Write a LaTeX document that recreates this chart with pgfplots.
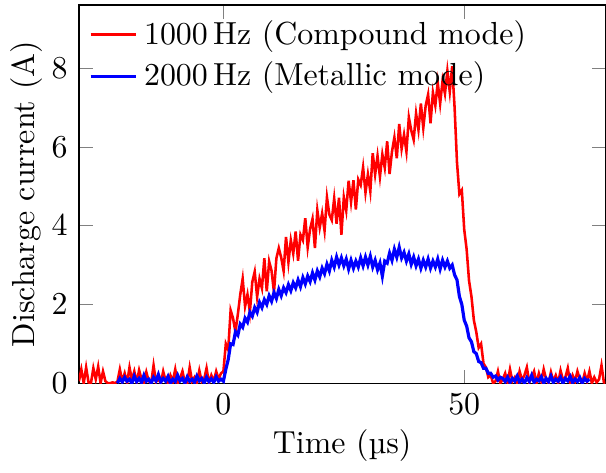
\documentclass[border=0pt]{standalone}
\usepackage{pgfplots}
\pgfplotsset{compat=1.18}
\begin{document}
\begin{tikzpicture}
\begin{axis}[
  scale only axis,
  width=165pt, height=118.5pt,
  xmin=-30, xmax=79.3,
  ymin=0, ymax=9.6,
  xtick={0,50}, ytick={0,2,4,6,8},
  xlabel={Time (\textmu s)},
  ylabel={Discharge current (A)},
  ylabel shift=-4pt,
  xlabel shift=-2.2pt,
  legend style={at={(0,0.995)}, anchor=north west, draw=none, fill=none},
  legend image code/.code={\draw[#1] (0cm,0cm) -- (0.5cm,0cm);},
  legend cell align=left,
]
\addplot[red, line width=0.8pt] coordinates {
(-30,0.05)(-29.5,0.35)(-29,0.0)(-28.5,0.4)(-28,0.02)(-27.5,0.0)(-27,0.38)(-26.5,0.1)(-26,0.42)(-25.5,0.0)
(-25,0.3)(-24.5,0.05)(-24,0.0)(-23.5,0.0)(-23,0.02)(-22.5,0.0)(-22,0.04)(-21.5,0.35)(-21,0.05)(-20.5,0.25)
(-20,0.0)(-19.5,0.4)(-19,0.08)(-18.5,0.3)(-18,0.02)(-17.5,0.33)(-17,0.1)(-16.5,0.0)(-16,0.28)(-15.5,0.05)
(-15,0.0)(-14.5,0.45)(-14,0.03)(-13.5,0.1)(-13,0.0)(-12.5,0.3)(-12,0.06)(-11.5,0.0)(-11,0.2)(-10.5,0.05)
(-10,0.35)(-9.5,0.0)(-9,0.12)(-8.5,0.3)(-8,0.02)(-7.5,0.0)(-7,0.4)(-6.5,0.05)(-6,0.15)(-5.5,0.0)
(-5,0.32)(-4.5,0.04)(-4,0.1)(-3.5,0.38)(-3,0.0)(-2.5,0.2)(-2,0.05)(-1.5,0.3)(-1,0.1)(-0.5,0.25)
(0,0.3)(0.5,1.0)(1,0.85)(1.5,1.85)(2,1.65)(2.5,1.3)(3,1.75)(3.5,2.25)(4,2.65)(4.5,1.95)
(5,2.25)(5.5,1.81)(6,2.57)(6.5,2.83)(7,2.19)(7.5,2.65)(8,2.41)(8.5,3.17)(9,2.33)(9.5,3.09)
(10,2.85)(10.5,2.31)(11,3.17)(11.5,3.43)(12,3.19)(12.5,2.85)(13,3.71)(13.5,3.07)(14,3.63)(14.5,3.29)
(15,3.85)(15.5,3.11)(16,3.77)(16.5,3.63)(17,4.19)(17.5,3.45)(18,3.91)(18.5,4.17)(19,3.43)(19.5,4.39)
(20,3.95)(20.5,4.31)(21,3.87)(21.5,4.72)(22,4.28)(22.5,4.14)(23,4.69)(23.5,4.05)(24,4.71)(24.5,3.77)
(25,4.72)(25.5,4.38)(26,5.14)(26.5,4.60)(27,5.15)(27.5,4.41)(28,5.17)(28.5,5.03)(29,5.48)(29.5,4.84)
(30,5.30)(30.5,4.87)(31,5.84)(31.5,5.30)(32,5.77)(32.5,5.24)(33,5.81)(33.5,5.47)(34,6.14)(34.5,5.31)
(35,5.88)(35.5,6.24)(36,5.71)(36.5,6.58)(37,5.95)(37.5,6.31)(38,5.88)(38.5,6.75)(39,6.42)(39.5,6.18)
(40,6.85)(40.5,6.43)(41,7.10)(41.5,6.48)(42,7.05)(42.5,7.33)(43,6.60)(43.5,7.38)(44,7.05)(44.5,7.63)
(45,7.10)(45.5,7.68)(46,7.35)(46.5,7.93)(47,7.40)(47.5,8.05)(48,7.0)(48.5,5.6)(49,4.8)(49.5,4.9)
(50,3.9)(50.5,3.4)(51,2.6)(51.5,2.2)(52,1.6)(52.5,1.3)(53,0.9)(53.5,1.0)(54,0.5)(54.5,0.4)
(55,0.15)(55.5,0.2)(56,0.0)(56.5,0.05)(57,0.3)(57.5,0.0)(58,0.1)(58.5,0.25)(59,0.02)(59.5,0.35)
(60,0.05)(60.5,0.15)(61,0.0)(61.5,0.3)(62,0.08)(62.5,0.2)(63,0.4)(63.5,0.02)(64,0.15)(64.5,0.3)
(65,0.0)(65.5,0.25)(66,0.05)(66.5,0.35)(67,0.1)(67.5,0.0)(68,0.28)(68.5,0.05)(69,0.2)(69.5,0.0)
(70,0.32)(70.5,0.08)(71,0.15)(71.5,0.38)(72,0.0)(72.5,0.2)(73,0.05)(73.5,0.3)(74,0.1)(74.5,0.0)
(75,0.25)(75.5,0.05)(76,0.3)(76.5,0.0)(77,0.15)(77.5,0.02)(78,0.1)(78.5,0.45)(79,0.02)(79.3,0.0)
};
\addlegendentry{1000\,Hz (Compound mode)}
\addplot[blue, line width=1pt] coordinates {
(-22,0.0)(-21.5,0.12)(-21,0.03)(-20.5,0.15)(-20,0.05)(-19.5,0.1)(-19,0.0)(-18.5,0.18)(-18,0.04)(-17.5,0.12)
(-17,0.02)(-16.5,0.2)(-16,0.05)(-15.5,0.1)(-15,0.0)(-14.5,0.15)(-14,0.06)(-13.5,0.22)(-13,0.03)(-12.5,0.12)
(-12,0.05)(-11.5,0.17)(-11,0.0)(-10.5,0.1)(-10,0.04)(-9.5,0.2)(-9,0.06)(-8.5,0.12)(-8,0.0)(-7.5,0.16)
(-7,0.05)(-6.5,0.1)(-6,0.02)(-5.5,0.18)(-5,0.06)(-4.5,0.12)(-4,0.0)(-3.5,0.15)(-3,0.04)(-2.5,0.11)
(-2,0.02)(-1.5,0.16)(-1,0.05)(-0.5,0.1)
(0,0.05)(0.5,0.35)(1,0.6)(1.5,1.0)(2,0.98)(2.5,1.3)(3,1.22)(3.5,1.5)(4,1.42)(4.5,1.65)
(5,1.55)(5.5,1.8)(6,1.7)(6.5,1.92)(7,1.8)(7.5,2.05)(8,1.92)(8.5,2.12)(9,2.0)(9.5,2.22)
(10,2.08)(10.5,2.3)(11,2.15)(11.5,2.38)(12,2.22)(12.5,2.42)(13,2.3)(13.5,2.5)(14,2.35)(14.5,2.55)
(15,2.42)(15.5,2.62)(16,2.45)(16.5,2.68)(17,2.52)(17.5,2.72)(18,2.58)(18.5,2.8)(19,2.62)(19.5,2.85)
(20,2.7)(20.5,2.92)(21,2.78)(21.5,3.02)(22,2.85)(22.5,3.12)(23,2.95)(23.5,3.2)(24,3.0)(24.5,3.18)
(25,2.98)(25.5,3.15)(26,2.9)(26.5,3.12)(27,2.92)(27.5,3.1)(28,2.95)(28.5,3.18)(29,2.98)(29.5,3.2)
(30,3.0)(30.5,3.22)(31,2.95)(31.5,3.12)(32,2.88)(32.5,3.05)(33,2.72)(33.5,3.1)(34,3.05)(34.5,3.3)
(35,3.12)(35.5,3.4)(36,3.2)(36.5,3.45)(37,3.18)(37.5,3.32)(38,3.1)(38.5,3.28)(39,3.02)(39.5,3.2)
(40,2.98)(40.5,3.15)(41,2.92)(41.5,3.12)(42,2.95)(42.5,3.15)(43,2.92)(43.5,3.1)(44,2.95)(44.5,3.15)
(45,2.9)(45.5,3.12)(46,2.95)(46.5,3.1)(47,2.92)(47.5,3.0)(48,2.75)(48.5,2.62)(49,2.2)(49.5,2.0)
(50,1.6)(50.5,1.45)(51,1.15)(51.5,1.05)(52,0.8)(52.5,0.75)(53,0.55)(53.5,0.52)(54,0.38)(54.5,0.38)
(55,0.25)(55.5,0.25)(56,0.15)(56.5,0.18)(57,0.08)(57.5,0.15)(58,0.12)(58.5,0.04)(59,0.15)(59.5,0.02)
(60,0.12)(60.5,0.05)(61,0.18)(61.5,0.03)(62,0.1)(62.5,0.0)(63,0.14)(63.5,0.05)(64,0.2)(64.5,0.02)
(65,0.1)(65.5,0.06)(66,0.16)(66.5,0.0)(67,0.12)(67.5,0.04)(68,0.18)(68.5,0.02)(69,0.1)(69.5,0.05)
(70,0.15)(70.5,0.0)(71,0.12)(71.5,0.06)(72,0.17)(72.5,0.02)(73,0.1)(73.5,0.04)(74,0.14)(74.5,0.0)
(75,0.12)(75.5,0.05)(76,0.1)
};
\addlegendentry{2000\,Hz (Metallic mode)}
\end{axis}
\path ([yshift=1.6pt]current axis.north) -- ++(0,0);
\end{tikzpicture}
\end{document}
